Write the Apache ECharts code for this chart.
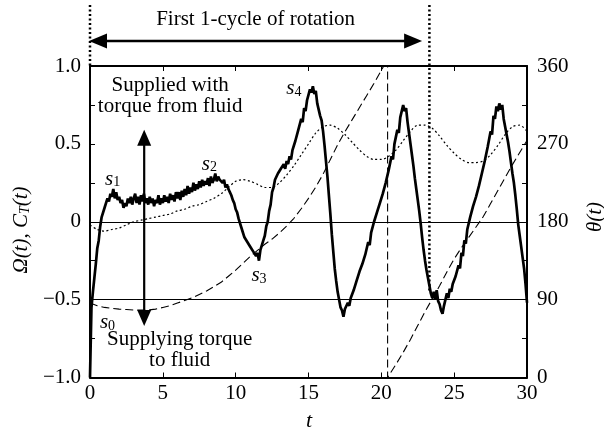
<!DOCTYPE html>
<html><head><meta charset="utf-8">
<script src="https://cdn.jsdelivr.net/npm/echarts@6/dist/echarts.min.js"></script>
<style>html,body{margin:0;padding:0;background:#fff}#c{width:604px;height:436px}</style>
</head><body><div id="c"></div>
<script>
const FONT = '"Liberation Serif","Times New Roman",serif';

// x range and ticks
const tRange = [0, 30];
const tInterval = 5;
const leftRange = [-1, 1];
const rightRange = [0, 360];

// C_T(t) noisy torque curve [t, value]
const ctData = [
[0,-1.0],[0.1,-0.55],[0.2,-0.45],[0.3,-0.36],[0.4,-0.27],[0.5,-0.17],[0.6,-0.12],[0.7,-0.03],[0.8,0.03],[0.9,0.04],
[1.0,0.09],[1.1,0.10],[1.2,0.15],[1.3,0.13],[1.4,0.18],[1.5,0.16],[1.6,0.21],[1.7,0.15],[1.8,0.19],[1.9,0.14],
[2.0,0.16],[2.1,0.12],[2.2,0.14],[2.3,0.09],[2.4,0.12],[2.5,0.10],[2.6,0.15],[2.7,0.12],[2.8,0.16],[2.9,0.11],
[3.0,0.15],[3.1,0.18],[3.2,0.12],[3.3,0.16],[3.4,0.11],[3.5,0.17],[3.6,0.13],[3.7,0.18],[3.8,0.12],[3.9,0.15],
[4.0,0.11],[4.1,0.16],[4.2,0.12],[4.3,0.15],[4.4,0.10],[4.5,0.14],[4.6,0.12],[4.7,0.17],[4.8,0.11],[4.9,0.15],
[5.0,0.12],[5.1,0.17],[5.2,0.13],[5.3,0.16],[5.4,0.12],[5.5,0.18],[5.6,0.14],[5.7,0.17],[5.8,0.13],[5.9,0.19],
[6.0,0.15],[6.1,0.19],[6.2,0.14],[6.3,0.20],[6.4,0.16],[6.5,0.21],[6.6,0.17],[6.7,0.23],[6.8,0.18],[6.9,0.22],
[7.0,0.19],[7.1,0.25],[7.2,0.20],[7.3,0.24],[7.4,0.21],[7.5,0.26],[7.6,0.22],[7.7,0.27],[7.8,0.23],[7.9,0.26],
[8.0,0.24],[8.1,0.28],[8.2,0.23],[8.3,0.29],[8.4,0.25],[8.5,0.27],[8.6,0.31],[8.7,0.26],[8.8,0.29],[8.9,0.27],
[9.0,0.28],[9.1,0.25],[9.2,0.27],[9.3,0.22],[9.4,0.24],[9.5,0.21],[9.6,0.19],[9.7,0.17],[9.8,0.14],[9.9,0.12],
[10.0,0.08],[10.1,0.06],[10.2,0.02],[10.3,0.01],[10.4,-0.04],[10.5,-0.05],[10.6,-0.10],[10.7,-0.09],[10.8,-0.13],[10.9,-0.12],
[11.0,-0.16],[11.1,-0.15],[11.2,-0.19],[11.3,-0.18],[11.4,-0.22],[11.5,-0.20],[11.6,-0.25],[11.7,-0.18],[11.8,-0.17],[11.9,-0.12],
[12.0,-0.09],[12.1,-0.03],[12.2,0.0],[12.3,0.07],[12.4,0.11],[12.5,0.19],[12.6,0.22],[12.7,0.27],[12.8,0.26],[12.9,0.31],
[13.0,0.30],[13.1,0.34],[13.2,0.33],[13.3,0.37],[13.4,0.34],[13.5,0.39],[13.6,0.37],[13.7,0.42],[13.8,0.40],[13.9,0.46],
[14.0,0.45],[14.1,0.52],[14.2,0.51],[14.3,0.59],[14.4,0.58],[14.5,0.66],[14.6,0.64],[14.7,0.73],[14.8,0.71],[14.9,0.78],
[15.0,0.77],[15.1,0.85],[15.2,0.83],[15.3,0.87],[15.4,0.82],[15.5,0.84],[15.6,0.76],[15.7,0.77],[15.8,0.68],[15.9,0.65],
[16.0,0.58],[16.1,0.49],[16.2,0.39],[16.3,0.29],[16.4,0.17],[16.5,0.05],[16.6,-0.08],[16.7,-0.19],[16.8,-0.30],[16.9,-0.38],
[17.0,-0.45],[17.1,-0.50],[17.2,-0.55],[17.3,-0.57],[17.4,-0.61],[17.5,-0.56],[17.6,-0.57],[17.7,-0.52],[17.8,-0.54],[17.9,-0.49],
[18.0,-0.50],[18.1,-0.44],[18.2,-0.45],[18.3,-0.38],[18.4,-0.39],[18.5,-0.32],[18.6,-0.33],[18.7,-0.27],[18.8,-0.28],[18.9,-0.21],
[19.0,-0.21],[19.1,-0.13],[19.2,-0.15],[19.3,-0.07],[19.4,-0.08],[19.5,0.0],[19.6,-0.01],[19.7,0.06],[19.8,0.05],[19.9,0.12],
[20.0,0.11],[20.1,0.18],[20.2,0.17],[20.3,0.25],[20.4,0.24],[20.5,0.33],[20.6,0.32],[20.7,0.42],[20.8,0.40],[20.9,0.50],
[21.0,0.49],[21.1,0.59],[21.2,0.57],[21.3,0.67],[21.4,0.66],[21.5,0.75],[21.6,0.71],[21.7,0.73],[21.8,0.64],[21.9,0.57],
[22.0,0.50],[22.1,0.43],[22.2,0.36],[22.3,0.28],[22.4,0.21],[22.5,0.14],[22.6,0.07],[22.7,-0.01],[22.8,-0.10],[22.9,-0.18],
[23.0,-0.25],[23.1,-0.31],[23.2,-0.36],[23.3,-0.41],[23.4,-0.46],[23.5,-0.49],[23.6,-0.45],[23.7,-0.50],[23.8,-0.44],[23.9,-0.51],
[24.0,-0.53],[24.1,-0.57],[24.2,-0.59],[24.3,-0.54],[24.4,-0.53],[24.5,-0.46],[24.6,-0.49],[24.7,-0.43],[24.8,-0.45],[24.9,-0.40],
[25.0,-0.41],[25.1,-0.35],[25.2,-0.36],[25.3,-0.28],[25.4,-0.30],[25.5,-0.20],[25.6,-0.22],[25.7,-0.12],[25.8,-0.14],[25.9,-0.05],
[26.0,-0.06],[26.1,0.03],[26.2,0.02],[26.3,0.10],[26.4,0.09],[26.5,0.16],[26.6,0.15],[26.7,0.23],[26.8,0.22],[26.9,0.31],
[27.0,0.30],[27.1,0.39],[27.2,0.38],[27.3,0.48],[27.4,0.47],[27.5,0.58],[27.6,0.56],[27.7,0.68],[27.8,0.66],[27.9,0.74],
[28.0,0.71],[28.1,0.76],[28.2,0.72],[28.3,0.75],[28.4,0.66],[28.5,0.61],[28.6,0.56],[28.7,0.51],[28.8,0.45],[28.9,0.38],
[29.0,0.31],[29.1,0.25],[29.2,0.17],[29.3,0.08],[29.4,-0.02],[29.5,-0.09],[29.6,-0.16],[29.7,-0.23],[29.8,-0.30],[29.9,-0.40],
[30.0,-0.52]
];

// Omega(t) dotted curve [t, value]
const omegaData = [
[0,-0.02],[0.5,-0.05],[1,-0.06],[1.5,-0.05],[2,-0.04],[2.5,-0.02],[3,0.0],[3.5,0.01],[4,0.02],[4.5,0.03],
[5,0.04],[5.5,0.05],[6,0.07],[6.5,0.08],[7,0.10],[7.5,0.11],[8,0.13],[8.5,0.15],[9,0.18],[9.5,0.22],
[10,0.26],[10.5,0.27],[11,0.26],[11.5,0.24],[12,0.22],[12.5,0.22],[13,0.25],[13.5,0.30],[14,0.36],[14.5,0.43],
[15,0.50],[15.5,0.57],[16,0.61],[16.5,0.62],[17,0.60],[17.5,0.56],[18,0.51],[18.5,0.46],[19,0.42],[19.5,0.40],
[20,0.40],[20.5,0.42],[21,0.46],[21.5,0.52],[22,0.58],[22.5,0.62],[23,0.62],[23.5,0.60],[24,0.55],[24.5,0.49],
[25,0.44],[25.5,0.40],[26,0.38],[26.5,0.38],[27,0.39],[27.5,0.43],[28,0.49],[28.5,0.56],[29,0.61],[29.5,0.62],[30,0.58]
];

// theta(t) dashed curve [t, degrees] (wraps at 360)
const thetaData = [
[0,86],[0.5,83],[1,81],[1.5,80],[2,79],[2.5,78.5],[3,78],[3.5,78],[4,78],[4.5,79],[5,81],[5.5,83],[6,86],[6.5,89],
[7,92],[7.5,96],[8,100],[8.5,105],[9,110],[9.5,117],[10,124],[10.5,132],[11,140],[11.5,147],[12,154],[12.5,160],
[13,167],[13.5,175],[14,184],[14.5,195],[15,207],[15.5,220],[16,235],[16.5,252],[17,269],[17.5,284],[18,298],
[18.5,312],[19,326],[19.5,340],[20,355],[20.43,368],[20.43,0],
[21,15],[21.5,29],[22,44],[22.5,60],[23,76],[23.5,91],[24,106],[24.5,122],[25,137],[25.5,150],[26,162],
[26.5,174],[27,186],[27.5,201],[28,216],[28.5,231],[29,246],[29.5,260],[30,274]
];

const refLines = [0, -0.5];
const cycleBounds = [0, 23.3];
const cycleTitle = 'First 1-cycle of rotation';
const noteTop = ['Supplied with', 'torque from fluid'];
const noteBottom = ['Supplying torque', 'to fluid'];
const stateLabels = [
  {sub:'0', t:1.2, v:-0.63},
  {sub:'1', t:1.55, v:0.29},
  {sub:'2', t:8.2, v:0.385},
  {sub:'3', t:11.6, v:-0.33},
  {sub:'4', t:14.0, v:0.87}
];

const FS = 21;
const chart = echarts.init(document.getElementById('c'), null, {renderer:'canvas'});

const axisLineStyle = {show:true, onZero:false, lineStyle:{color:'#000', width:2}};
const tickStyle = {show:true, inside:true, length:5, lineStyle:{color:'#000', width:1}};
const labelStyle = {color:'#000', fontFamily:FONT, fontSize:FS};

const option = {
  animation:false,
  backgroundColor:'#fff',
  grid:{left:90, right:77, top:66, bottom:58.5, containLabel:false},
  xAxis:[
    {type:'value', min:tRange[0], max:tRange[1], interval:tInterval, position:'bottom',
     axisLine:axisLineStyle, axisTick:tickStyle, splitLine:{show:false},
     axisLabel:Object.assign({margin:5}, labelStyle)},
    {type:'value', min:tRange[0], max:tRange[1], interval:tInterval, position:'top',
     axisLine:axisLineStyle, axisTick:tickStyle, splitLine:{show:false}, axisLabel:{show:false}}
  ],
  yAxis:[
    {type:'value', min:leftRange[0], max:leftRange[1], interval:0.5, position:'left',
     axisLine:axisLineStyle, axisTick:tickStyle,
     minorTick:{show:true, splitNumber:2, length:5, lineStyle:{color:'#000', width:1}},
     splitLine:{show:false}, minorSplitLine:{show:false},
     axisLabel:Object.assign({margin:9, formatter:function(v){
        if (Math.abs(v) < 1e-9) return '0';
        return (v < 0 ? '\u2212' : '') + Math.abs(v).toFixed(1);
     }}, labelStyle)},
    {type:'value', min:rightRange[0], max:rightRange[1], interval:90, position:'right',
     axisLine:axisLineStyle, axisTick:tickStyle,
     minorTick:{show:true, splitNumber:2, length:5, lineStyle:{color:'#000', width:1}},
     splitLine:{show:false}, minorSplitLine:{show:false},
     axisLabel:Object.assign({margin:10}, labelStyle)}
  ],
  series:[
    {type:'line', name:'theta', xAxisIndex:0, yAxisIndex:1, data:thetaData, showSymbol:false,
     clip:true, lineStyle:{color:'#000', width:1.1, type:[8,4]}, z:2},
    {type:'line', name:'omega', xAxisIndex:0, yAxisIndex:0, data:omegaData, showSymbol:false,
     smooth:0.3, clip:true, lineStyle:{color:'#000', width:1.2, type:[2,2.5]}, z:3},
    {type:'line', name:'ct', xAxisIndex:0, yAxisIndex:0, data:ctData, showSymbol:false,
     clip:true, lineStyle:{color:'#000', width:2.7}, z:4,
     markLine:{silent:true, symbol:['none','none'], label:{show:false},
       lineStyle:{color:'#000', width:1, type:'solid'},
       data:refLines.map(function(v){return {yAxis:v};})}}
  ]
};
chart.setOption(option);

function px(t, v){ return chart.convertToPixel({xAxisIndex:0, yAxisIndex:0}, [t, v]); }
function txt(text, x, y, opts){
  opts = opts || {};
  return {type:'text', x:x, y:y, rotation:opts.rotation || 0, z:10,
    style:Object.assign({text:text, x:0, y:0, fill:'#000', fontFamily:FONT, fontSize:opts.size || FS,
      fontStyle:opts.italic ? 'italic' : 'normal',
      textAlign:opts.align || 'center', align:opts.align || 'center',
      textVerticalAlign:'middle', verticalAlign:'middle'}, opts.extra || {})};
}
const g = [];
const xs = px(cycleBounds[0], 0)[0];
const xe = px(cycleBounds[1], 0)[0];
const gridTop = px(0, leftRange[1])[1];
// dotted vertical boundary lines
g.push({type:'line', z:10, shape:{x1:xs, y1:5, x2:xs, y2:gridTop}, style:{stroke:'#000', lineWidth:2.5, lineDash:[2,2.5]}});
g.push({type:'line', z:10, shape:{x1:xe, y1:5, x2:xe, y2:px(cycleBounds[1], -0.45)[1]}, style:{stroke:'#000', lineWidth:2.5, lineDash:[2,2.5]}});
// double horizontal arrow
const ay = 41;
const axL = xs - 1, axR = px(22.8, 0)[0];
g.push({type:'line', z:10, shape:{x1:axL+10, y1:ay, x2:axR-10, y2:ay}, style:{stroke:'#000', lineWidth:2.5}});
g.push({type:'polygon', z:10, shape:{points:[[axL,ay],[axL+18,ay-7.5],[axL+18,ay+7.5]]}, style:{fill:'#000'}});
g.push({type:'polygon', z:10, shape:{points:[[axR,ay],[axR-18,ay-7.5],[axR-18,ay+7.5]]}, style:{fill:'#000'}});
g.push(txt(cycleTitle, (axL+axR)/2, 19));
// vertical double arrow
const vx = px(3.72, 0)[0];
const vTop = px(3.72, 0.59)[1], vBot = px(3.72, -0.67)[1];
g.push({type:'line', z:10, shape:{x1:vx, y1:vTop+10, x2:vx, y2:vBot-10}, style:{stroke:'#000', lineWidth:2.2}});
g.push({type:'polygon', z:10, shape:{points:[[vx,vTop],[vx-7,vTop+16],[vx+7,vTop+16]]}, style:{fill:'#000'}});
g.push({type:'polygon', z:10, shape:{points:[[vx,vBot],[vx-7,vBot-16],[vx+7,vBot-16]]}, style:{fill:'#000'}});
// notes
const n1 = px(5.5, 0.877), n2 = px(5.5, 0.739);
g.push(txt(noteTop[0], n1[0], n1[1]));
g.push(txt(noteTop[1], n2[0], n2[1]));
const n3 = px(6.16, -0.758), n4 = px(6.16, -0.893);
g.push(txt(noteBottom[0], n3[0], n3[1]));
g.push(txt(noteBottom[1], n4[0], n4[1]));
// state labels s0..s4
const richSub = {
  i:{fontFamily:FONT, fontSize:21, fontStyle:'italic', lineHeight:26, verticalAlign:'bottom'},
  s:{fontFamily:FONT, fontSize:14, lineHeight:13, verticalAlign:'bottom'}
};
stateLabels.forEach(function(s){
  const p = px(s.t, s.v);
  g.push(txt('{i|s}{s|' + s.sub + '}', p[0], p[1], {extra:{rich:richSub}}));
});
// axis titles
const richAx = {
  i:{fontFamily:FONT, fontSize:21, fontStyle:'italic', lineHeight:26, verticalAlign:'bottom'},
  s:{fontFamily:FONT, fontSize:14, fontStyle:'italic', lineHeight:13, verticalAlign:'bottom'}
};
g.push(txt('{i|\u03A9(t), C}{s|T}{i|(t)}', 19, 230, {rotation:Math.PI/2, extra:{rich:richAx}}));
g.push(txt('{i|\u03B8(t)}', 593, 217, {rotation:Math.PI/2, extra:{rich:richAx}}));
g.push(txt('t', 309, 421, {italic:true, size:22}));
chart.setOption({graphic:{elements:g}});
</script>
</body></html>
